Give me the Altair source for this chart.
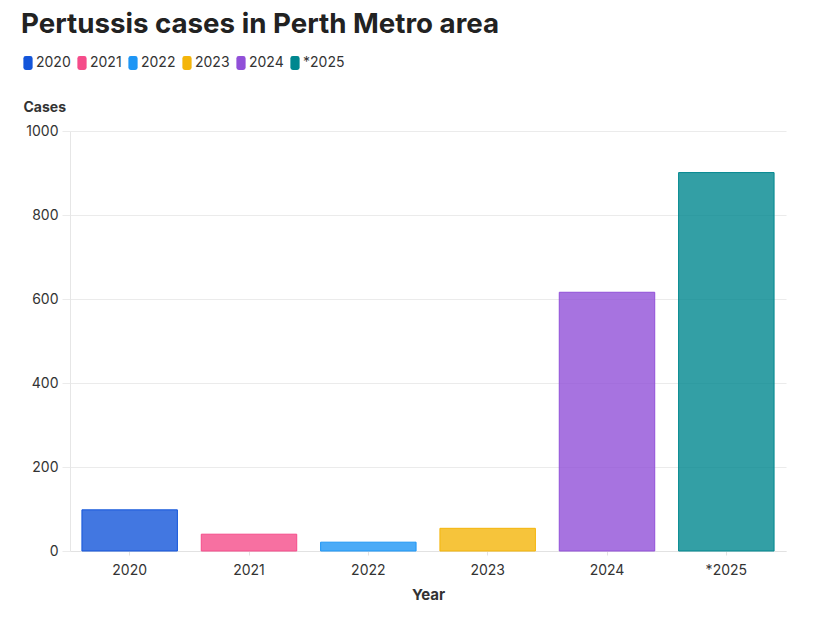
import altair as alt
import pandas as pd

# Pertussis notifications per year, Perth metropolitan area
years = ["2020", "2021", "2022", "2023", "2024", "*2025"]
cases = [98, 40, 21, 54, 616, 901]
colors = ["#1355DA", "#F54C8A", "#1E96F5", "#F4B50A", "#9150D8", "#00878F"]

df = pd.DataFrame({"Year": years, "Cases": cases})

# rounded, upright swatch for the legend (unit box -1..1)
swatch = ("M-0.66,-0.66 Q-0.66,-1 -0.32,-1 L0.32,-1 Q0.66,-1 0.66,-0.66 "
          "L0.66,0.66 Q0.66,1 0.32,1 L-0.32,1 Q-0.66,1 -0.66,0.66 Z")

font = "Inter"

bars = alt.Chart(df).mark_bar(
    fillOpacity=0.8, strokeWidth=1, strokeOpacity=1
).encode(
    x=alt.X(
        "Year:N", sort=years, title="Year",
        scale=alt.Scale(paddingInner=0.2, paddingOuter=0.1),
        axis=alt.Axis(
            labelAngle=0, labelFontSize=14, labelColor="#333333", labelFont=font,
            labelPadding=8, tickSize=4, tickColor="#e2e2e2", domainColor="#e2e2e2",
            titleFontSize=15, titleFontWeight="bold", titleColor="#333333",
            titleFont=font, titlePadding=10,
        ),
    ),
    y=alt.Y(
        "Cases:Q", title="Cases",
        scale=alt.Scale(domain=[0, 1000]),
        axis=alt.Axis(
            values=[0, 200, 400, 600, 800, 1000], format="d", labelFontSize=14,
            labelColor="#333333", labelFont=font, labelPadding=4, tickSize=8,
            tickColor="#ebebeb", domainColor="#e6e6e6", gridColor="#ebebeb",
            titleAngle=0, titleAlign="left", titleBaseline="bottom",
            titleX=-47, titleY=-17, titleFontSize=14, titleFontWeight="bold",
            titleColor="#333333", titleFont=font,
        ),
    ),
    fill=alt.Fill(
        "Year:N", sort=years,
        scale=alt.Scale(domain=years, range=colors),
        legend=alt.Legend(
            title=None, orient="none", direction="horizontal",
            legendX=-49, legendY=-75, symbolType=swatch, symbolSize=196,
            symbolOpacity=1, symbolStrokeWidth=0, labelFontSize=14,
            labelFont=font, labelColor="#333333", labelOffset=1,
            columnPadding=4,
        ),
    ),
    stroke=alt.Stroke(
        "Year:N", sort=years,
        scale=alt.Scale(domain=years, range=colors), legend=None,
    ),
).properties(
    width=716,
    height=420,
    title=alt.TitleParams(
        "Pertussis cases in Perth Metro area", anchor="start", frame="bounds",
        fontSize=27.7, fontWeight="bold", color="#222222", font=font, offset=17,
    ),
    autosize=alt.AutoSizeParams(type="none"),
    padding={"left": 70, "top": 131, "right": 34, "bottom": 69},
).configure_view(stroke=None)

chart = bars
chart.save("out.html", embed_options={"renderer": "svg", "actions": False})
